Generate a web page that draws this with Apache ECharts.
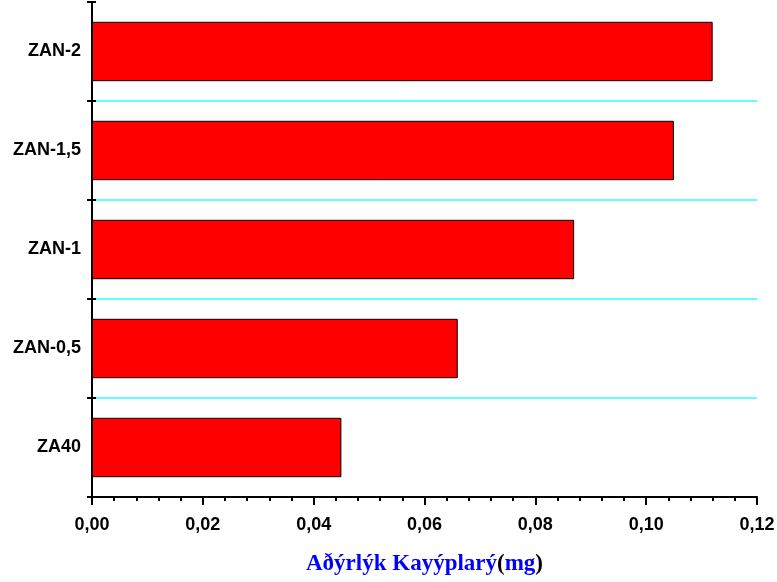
<!DOCTYPE html>
<html>
<head>
<meta charset="utf-8">
<script src="https://cdn.jsdelivr.net/npm/echarts@6/dist/echarts.min.js"></script>
<style>html,body{margin:0;padding:0;background:#fff}#c{width:777px;height:582px}</style>
</head>
<body>
<div id="c"></div>
<script>
const categories = ['ZA40', 'ZAN-0,5', 'ZAN-1', 'ZAN-1,5', 'ZAN-2'];
const values = [0.045, 0.066, 0.087, 0.105, 0.112];
const xMin = 0, xMax = 0.12, xStep = 0.02;

const chart = echarts.init(document.getElementById('c'), null, {renderer: 'canvas'});
chart.setOption({
  animation: false,
  backgroundColor: '#fff',
  grid: {left: 92, right: 20, top: 2, bottom: 85, containLabel: false, outerBoundsMode: 'none'},
  xAxis: {
    type: 'value', min: xMin, max: xMax, interval: xStep,
    name: '{b|Aðýrlýk Kayýplarý}{p|(}{b|mg}{p|)}',
    nameLocation: 'middle', nameGap: 56,
    nameTextStyle: {
      rich: {
        b: {fontFamily: 'Liberation Serif', fontWeight: 'bold', fontSize: 23, color: '#0000FF'},
        p: {fontFamily: 'Liberation Serif', fontWeight: 'bold', fontSize: 23, color: '#000'}
      }
    },
    axisLine: {show: true, lineStyle: {color: '#000', width: 2}},
    axisTick: {show: true, length: 8, lineStyle: {color: '#000', width: 2}},
    minorTick: {show: true, splitNumber: 5, length: 4, lineStyle: {color: '#000', width: 2}},
    splitLine: {show: false},
    axisLabel: {
      fontFamily: 'Liberation Sans', fontWeight: 'bold', fontSize: 18, color: '#000', margin: 19,
      formatter: v => v.toFixed(2).replace('.', ',')
    }
  },
  yAxis: [{
    type: 'category', data: categories,
    axisLine: {show: true, lineStyle: {color: '#000', width: 2}},
    axisTick: {show: true, length: 5, lineStyle: {color: '#000', width: 2}},
    splitLine: {show: false},
    axisLabel: {fontFamily: 'Liberation Sans', fontWeight: 'bold', fontSize: 18, color: '#000', margin: 11}
  }, {
    type: 'value', min: 0, max: categories.length, interval: 1, position: 'left',
    axisLine: {show: false},
    axisTick: {show: true, inside: true, length: 4, lineStyle: {color: '#000', width: 2}},
    axisLabel: {show: false},
    splitLine: {show: true, showMinLine: false, showMaxLine: false, lineStyle: {color: '#33FFFF', width: 1.5, opacity: 1}}
  }],
  series: [{
    type: 'bar', data: values, barCategoryGap: '40%', yAxisIndex: 0,
    itemStyle: {color: '#FF0000', borderColor: '#000', borderWidth: 1}
  }]
});
</script>
</body>
</html>
